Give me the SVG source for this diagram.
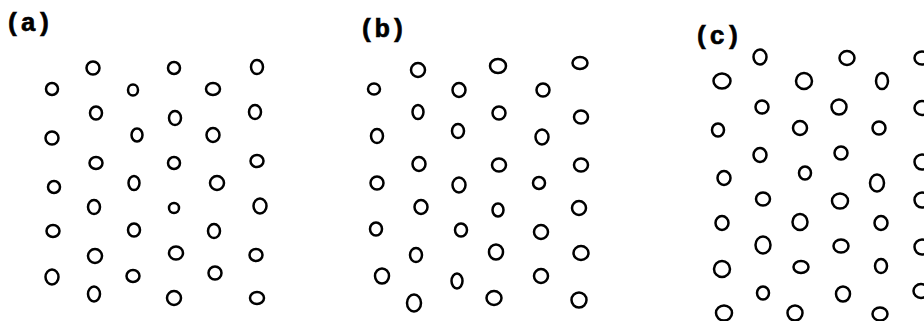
<svg xmlns="http://www.w3.org/2000/svg" width="924" height="321" viewBox="0 0 924 321">
<style>
.lbl{font-family:"Liberation Mono","DejaVu Sans Mono",monospace;font-weight:bold;font-size:26px;fill:#000;stroke:#000;stroke-width:0.6}
.c{fill:none;stroke:#000;stroke-width:2.5}
</style>
<rect width="924" height="321" fill="#fff"/>
<g id="panel-a">
<text class="lbl" x="5" y="31">(a)</text>
<g class="c">
<ellipse cx="93" cy="68" rx="6.5" ry="6.5"/><ellipse cx="174" cy="68" rx="6" ry="6"/><ellipse cx="257" cy="67" rx="6" ry="7"/>
<ellipse cx="52" cy="89" rx="6" ry="6"/><ellipse cx="133" cy="90" rx="5" ry="5.5"/><ellipse cx="213" cy="89" rx="7" ry="6"/>
<ellipse cx="96" cy="113" rx="6" ry="6.5"/><ellipse cx="175" cy="118" rx="6" ry="7"/><ellipse cx="255" cy="112" rx="6" ry="7"/>
<ellipse cx="52" cy="138" rx="6.5" ry="6.5"/><ellipse cx="137" cy="135" rx="5.5" ry="6.5"/><ellipse cx="213" cy="135" rx="6.5" ry="7"/>
<ellipse cx="96" cy="163" rx="6.5" ry="6"/><ellipse cx="174" cy="163" rx="6" ry="6"/><ellipse cx="257" cy="161" rx="6.5" ry="6"/>
<ellipse cx="54" cy="187" rx="6" ry="6"/><ellipse cx="134" cy="183" rx="5.5" ry="7"/><ellipse cx="217" cy="183" rx="7" ry="7"/>
<ellipse cx="94" cy="207" rx="6" ry="7"/><ellipse cx="174" cy="208" rx="5" ry="5"/><ellipse cx="260" cy="206" rx="6.5" ry="7.5"/>
<ellipse cx="53" cy="231" rx="6.5" ry="6"/><ellipse cx="134" cy="230" rx="6" ry="6.5"/><ellipse cx="214" cy="231" rx="6" ry="7"/>
<ellipse cx="95" cy="256" rx="7" ry="7"/><ellipse cx="176" cy="253" rx="7" ry="6.5"/><ellipse cx="256" cy="255" rx="6.5" ry="6"/>
<ellipse cx="52" cy="277" rx="6.5" ry="7.5"/><ellipse cx="133" cy="276" rx="6.5" ry="6"/><ellipse cx="215" cy="273" rx="6.5" ry="6.5"/>
<ellipse cx="94" cy="294" rx="6" ry="7.5"/><ellipse cx="174" cy="298" rx="7" ry="7"/><ellipse cx="257" cy="298" rx="7" ry="6"/>
</g>
</g>
<g id="panel-b">
<text class="lbl" x="359" y="37">(b)</text>
<g class="c">
<ellipse cx="418" cy="70" rx="7" ry="7"/><ellipse cx="498" cy="66" rx="8" ry="7"/><ellipse cx="580" cy="63" rx="7.5" ry="6"/>
<ellipse cx="374" cy="89" rx="6" ry="5.5"/><ellipse cx="459" cy="90" rx="6.5" ry="7"/><ellipse cx="543" cy="90" rx="6.5" ry="6.5"/>
<ellipse cx="418" cy="112" rx="5.5" ry="7"/><ellipse cx="499" cy="113" rx="6.5" ry="6.5"/><ellipse cx="581" cy="117" rx="7" ry="6.5"/>
<ellipse cx="377" cy="136" rx="6" ry="7"/><ellipse cx="458" cy="131" rx="6" ry="7"/><ellipse cx="542" cy="137" rx="6.5" ry="7.5"/>
<ellipse cx="419" cy="164" rx="6.5" ry="7"/><ellipse cx="499" cy="165" rx="7" ry="6.5"/><ellipse cx="581" cy="165" rx="7" ry="6.5"/>
<ellipse cx="377" cy="183" rx="6.5" ry="6.5"/><ellipse cx="459" cy="185" rx="6.5" ry="7.5"/><ellipse cx="539" cy="183" rx="6" ry="6"/>
<ellipse cx="421" cy="207" rx="6.5" ry="7"/><ellipse cx="498" cy="210" rx="5.5" ry="6.5"/><ellipse cx="579" cy="208" rx="7" ry="7"/>
<ellipse cx="376" cy="229" rx="6" ry="6.5"/><ellipse cx="461" cy="230" rx="6" ry="6.5"/><ellipse cx="541" cy="232" rx="7" ry="7"/>
<ellipse cx="416" cy="255" rx="6" ry="7"/><ellipse cx="496" cy="252" rx="7" ry="7.5"/><ellipse cx="581" cy="253" rx="7.5" ry="7"/>
<ellipse cx="382" cy="276" rx="7" ry="7.5"/><ellipse cx="457" cy="281" rx="5.5" ry="7.5"/><ellipse cx="541" cy="276" rx="7" ry="7"/>
<ellipse cx="414" cy="303" rx="7" ry="8.5"/><ellipse cx="494" cy="298" rx="7.5" ry="7"/><ellipse cx="579" cy="300" rx="7.5" ry="7.5"/>
</g>
</g>
<g id="panel-c">
<text class="lbl" x="694" y="44">(c)</text>
<g class="c">
<ellipse cx="760" cy="57" rx="6.5" ry="7.5"/><ellipse cx="847" cy="58" rx="7.5" ry="7"/><ellipse cx="922" cy="58" rx="7.5" ry="6.5"/>
<ellipse cx="722" cy="81" rx="8.5" ry="7.5"/><ellipse cx="804" cy="81" rx="8" ry="8"/><ellipse cx="882" cy="81" rx="6" ry="8"/>
<ellipse cx="762" cy="107" rx="6.5" ry="6.5"/><ellipse cx="839" cy="107" rx="7.5" ry="7.5"/><ellipse cx="922" cy="108" rx="7.5" ry="7"/>
<ellipse cx="718" cy="130" rx="6" ry="6.5"/><ellipse cx="800" cy="128" rx="7" ry="7"/><ellipse cx="879" cy="128" rx="6.5" ry="6.5"/>
<ellipse cx="760" cy="155" rx="6.5" ry="7"/><ellipse cx="841" cy="153" rx="6.5" ry="6.5"/><ellipse cx="922" cy="162" rx="7.5" ry="7.5"/>
<ellipse cx="724" cy="178" rx="6.5" ry="7"/><ellipse cx="805" cy="173" rx="6" ry="6.5"/><ellipse cx="877" cy="183" rx="7" ry="8.5"/>
<ellipse cx="763" cy="199" rx="7" ry="6.5"/><ellipse cx="840" cy="201" rx="8" ry="7.5"/><ellipse cx="922" cy="200" rx="7.5" ry="7.5"/>
<ellipse cx="722" cy="223" rx="6.5" ry="7"/><ellipse cx="800" cy="222" rx="7.5" ry="8"/><ellipse cx="881" cy="223" rx="6.5" ry="7"/>
<ellipse cx="763" cy="245" rx="7.5" ry="8.5"/><ellipse cx="841" cy="246" rx="7.5" ry="6.5"/><ellipse cx="922" cy="247" rx="7.5" ry="7.5"/>
<ellipse cx="722" cy="269" rx="8" ry="8"/><ellipse cx="801" cy="267" rx="7.5" ry="6"/><ellipse cx="881" cy="266" rx="6" ry="7"/>
<ellipse cx="763" cy="293" rx="6" ry="6.5"/><ellipse cx="843" cy="294" rx="7" ry="7.5"/><ellipse cx="921" cy="291" rx="7.5" ry="7"/>
<ellipse cx="724" cy="313" rx="8" ry="7.5"/><ellipse cx="795" cy="313" rx="7.5" ry="7.5"/><ellipse cx="880" cy="314" rx="7.5" ry="6.5"/>
</g>
</g>
</svg>
